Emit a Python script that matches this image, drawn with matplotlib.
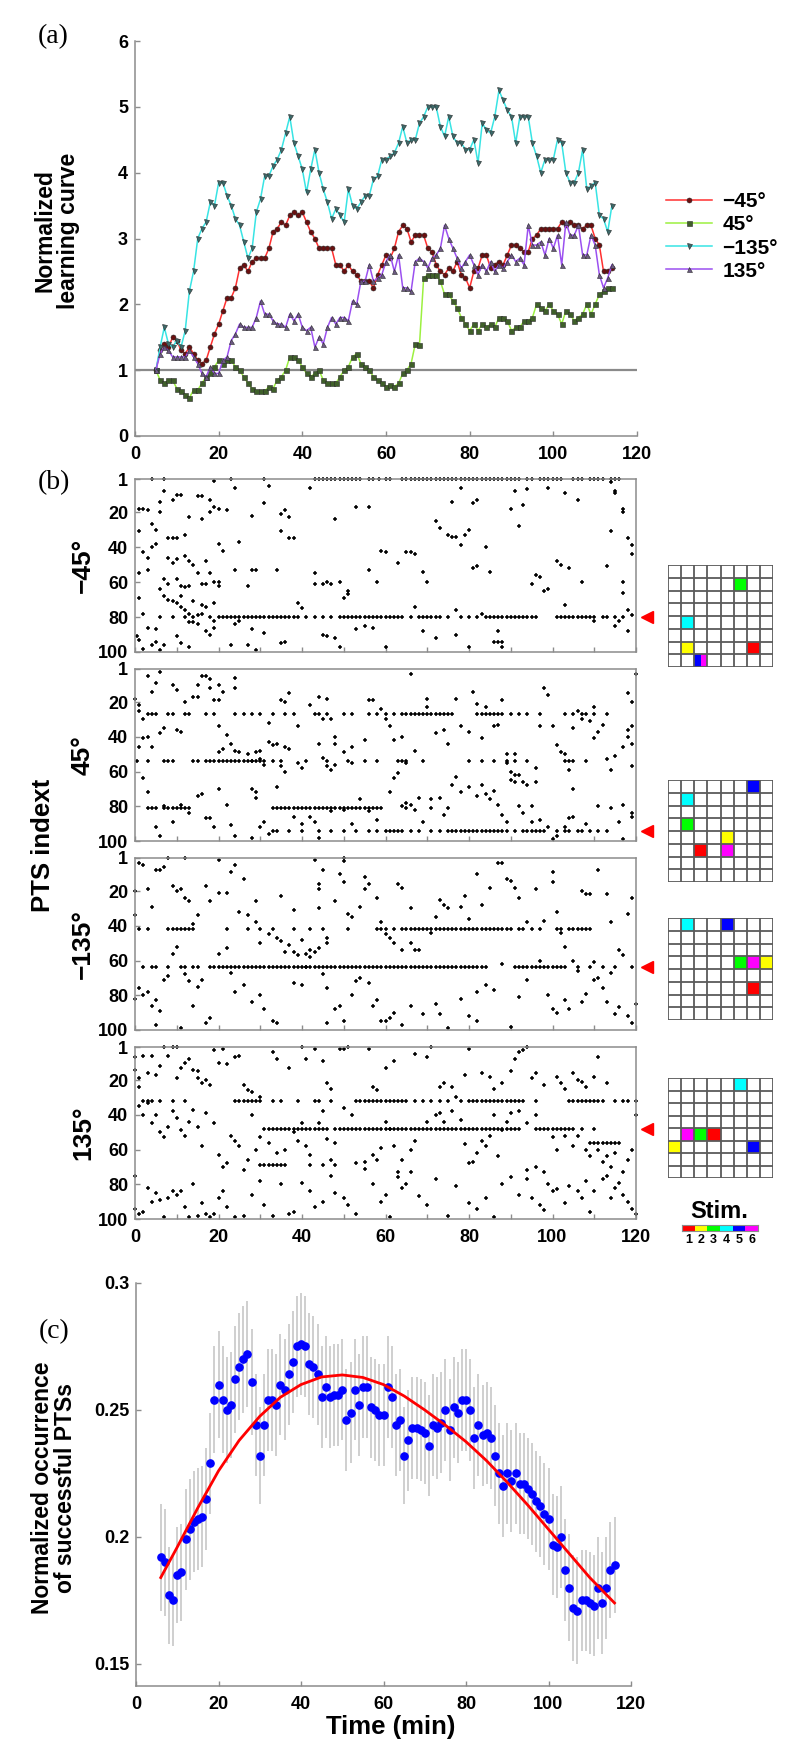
import matplotlib
matplotlib.use('Agg')
import matplotlib.pyplot as plt
from matplotlib.patches import Rectangle
import numpy as np

plt.rcParams['font.family'] = ['Liberation Sans', 'DejaVu Sans']
plt.rcParams['font.weight'] = 'bold'
plt.rcParams['axes.edgecolor'] = '#8c8c8c'
plt.rcParams['axes.linewidth'] = 1.1

##################################################
# (a) normalized learning curves, one value per minute (5..114)
minutes_a = list(range(5, 115))
curve_m45 = [1.0, 1.3, 1.4, 1.35, 1.5, 1.45, 1.3, 1.25, 1.35, 1.25,
             1.15, 1.1, 1.15, 1.35, 1.55, 1.7, 1.9, 2.1, 2.1, 2.25,
             2.55, 2.6, 2.5, 2.65, 2.7, 2.7, 2.7, 2.85, 3.1, 3.15,
             3.25, 3.2, 3.35, 3.4, 3.35, 3.4, 3.25, 3.1, 3.0, 2.85,
             2.85, 2.85, 2.85, 2.6, 2.6, 2.5, 2.6, 2.5, 2.45, 2.35,
             2.35, 2.35, 2.25, 2.45, 2.6, 2.75, 2.7, 2.85, 3.1, 3.2,
             3.15, 2.95, 3.05, 3.05, 3.05, 2.85, 2.8, 2.6, 2.5, 2.45,
             2.55, 2.5, 2.65, 2.45, 2.4, 2.25, 2.5, 2.55, 2.75, 2.75,
             2.55, 2.6, 2.65, 2.6, 2.75, 2.9, 2.9, 2.85, 2.8, 2.8,
             3.0, 3.05, 3.15, 3.15, 3.15, 3.15, 3.15, 3.25, 3.2, 3.25,
             3.2, 3.2, 3.15, 3.2, 3.2, 3.0, 2.9, 2.5, 2.5, 2.55]
curve_45 = [1.0, 0.85, 0.8, 0.85, 0.85, 0.72, 0.68, 0.63, 0.58, 0.7,
            0.7, 0.8, 0.9, 0.95, 1.05, 1.15, 1.1, 1.15, 1.15, 1.05,
            1.0, 0.9, 0.8, 0.72, 0.68, 0.68, 0.68, 0.75, 0.72, 0.85,
            0.9, 1.0, 1.2, 1.2, 1.15, 1.05, 0.95, 0.9, 0.95, 1.0,
            0.85, 0.8, 0.8, 0.8, 0.9, 1.0, 1.05, 1.2, 1.25, 1.1,
            1.05, 1.0, 0.9, 0.85, 0.8, 0.75, 0.78, 0.75, 0.8, 0.95,
            1.0, 1.1, 1.4, 1.38, 2.4, 2.45, 2.45, 2.45, 2.35, 2.15,
            2.15, 2.05, 1.95, 1.8, 1.7, 1.6, 1.7, 1.6, 1.7, 1.65,
            1.7, 1.65, 1.8, 1.8, 1.75, 1.6, 1.65, 1.65, 1.75, 1.75,
            1.8, 2.0, 1.95, 1.9, 2.0, 1.9, 1.85, 1.7, 1.9, 1.85,
            1.75, 1.8, 1.85, 2.0, 1.85, 2.0, 2.15, 2.2, 2.25, 2.25]
curve_m135 = [1.0, 1.35, 1.65, 1.4, 1.35, 1.45, 1.35, 1.6, 2.2, 2.5,
              3.0, 3.15, 3.25, 3.55, 3.5, 3.85, 3.85, 3.65, 3.5, 3.3,
              3.2, 2.95, 2.7, 2.85, 3.4, 3.6, 3.95, 3.95, 4.1, 4.2,
              4.35, 4.6, 4.85, 4.45, 4.25, 4.05, 3.7, 4.05, 4.35, 4.0,
              3.75, 3.55, 3.3, 3.45, 3.35, 3.25, 3.75, 3.5, 3.45, 3.55,
              3.65, 3.65, 3.9, 3.95, 4.2, 4.2, 4.25, 4.3, 4.45, 4.7,
              4.45, 4.5, 4.5, 4.75, 4.85, 5.0, 5.0, 5.0, 4.7, 4.55,
              4.85, 4.55, 4.45, 4.45, 4.35, 4.35, 4.5, 4.15, 4.75, 4.65,
              4.6, 4.85, 5.25, 5.1, 4.95, 4.85, 4.45, 4.85, 4.85, 4.85,
              4.45, 4.25, 4.0, 4.2, 4.2, 4.2, 4.5, 4.45, 4.0, 3.85,
              3.85, 4.0, 4.35, 3.75, 3.8, 3.85, 3.35, 3.3, 3.1, 3.5]
curve_135 = [1.0, 1.25, 1.35, 1.3, 1.2, 1.2, 1.2, 1.2, 1.3, 1.2,
             1.1, 0.95, 0.9, 1.05, 0.95, 0.95, 1.15, 1.2, 1.45, 1.55,
             1.7, 1.65, 1.65, 1.65, 1.8, 2.05, 1.85, 1.85, 1.75, 1.7,
             1.7, 1.65, 1.85, 1.75, 1.85, 1.65, 1.6, 1.65, 1.35, 1.5,
             1.4, 1.65, 1.8, 1.7, 1.8, 1.8, 1.75, 2.05, 2.0, 2.35,
             2.35, 2.6, 2.35, 2.4, 2.45, 2.65, 2.75, 2.5, 2.75, 2.25,
             2.25, 2.2, 2.65, 2.7, 2.65, 2.55, 2.7, 2.75, 2.85, 3.2,
             3.0, 2.85, 2.7, 2.55, 2.65, 2.75, 2.6, 2.45, 2.6, 2.5,
             2.65, 2.5, 2.6, 2.55, 2.65, 2.75, 2.65, 2.7, 2.6, 3.2,
             2.9, 2.9, 2.95, 2.75, 3.0, 2.85, 3.05, 2.6, 3.25, 3.05,
             3.05, 3.2, 2.75, 2.75, 3.05, 2.9, 2.45, 2.25, 2.4, 2.6]
angle_labels = ['\u221245\u00b0', '45\u00b0', '\u2212135\u00b0', '135\u00b0']

##################################################
# (b) raster of successful PTS index vs time, one block per angle
# dense rows: (PTS index, times)
m45_rows = [(1, [43, 44, 45, 46, 47, 48, 49, 50, 51, 52, 53, 54, 56, 57, 58.5, 60, 61, 64, 65, 66, 67,
                 68, 69, 70, 71, 72, 73, 74, 75, 76, 77, 78, 79, 80, 81, 82, 83, 84, 85, 86, 87, 88,
                 89, 90, 91, 92, 94, 95, 97, 98, 99, 100, 101, 102, 105, 106, 107, 109, 110, 111,
                 112, 114, 115, 116]),
            (80, [20, 21, 22, 23, 24, 25, 26, 27, 28, 29, 30, 31, 32, 33, 34, 35, 36, 37, 38, 39, 41,
                  43, 45, 47, 49, 50, 51, 52, 53, 54, 55, 56, 57, 58, 59, 60, 61, 62, 63, 64, 66, 68,
                  69, 70, 71, 72, 73, 75, 78, 80, 82, 84, 85, 86, 87, 88, 89, 90, 91, 92, 93, 94, 95,
                  96, 101, 102, 103, 104, 105, 106, 107, 108, 109, 110, 112, 113, 115, 117])]
m45_pts = [(4, 1), (7, 1), (19, 2), (23, 1), (31, 1), (42, 6),
           (1, 18), (2, 18), (3, 19), (4, 27), (5, 30), (1, 31), (2, 43), (3, 46), (1, 55), (3, 53),
           (1, 69), (2, 78), (0.5, 91), (1, 93), (3, 86), (4, 96), (5, 94), (2, 98), (6, 99), (4, 40),
           (5, 38), (6, 14), (7, 8), (6, 20), (8, 35), (9, 35), (10, 35), (9, 13), (10, 10), (11, 10),
           (8, 46), (9, 49), (10, 47), (12, 45), (13, 48), (14, 50), (12, 33), (13, 23), (16, 24),
           (15, 11), (16, 11), (18, 13), (19, 17), (20, 18), (22, 19), (18, 20), (18, 55), (19, 60),
           (20, 60), (20, 62), (15, 55), (13, 62), (16, 61), (17, 61), (7, 58), (8, 61), (6, 64),
           (7, 68), (8, 70), (9, 71), (10, 72), (11, 74), (12, 76), (13, 78), (14, 80), (15, 79),
           (16, 78), (18, 80), (19, 82), (19, 86), (15, 84), (13, 83), (17, 88), (18, 90), (7, 96),
           (10, 91), (11, 95), (13, 97), (12, 63), (11, 68), (14, 71), (16, 73), (17, 74), (19, 72),
           (21, 42), (20, 38), (17, 48), (10, 58), (11, 62), (9, 80), (12, 80), (14, 83), (6, 80),
           (5, 87), (24, 6), (28, 22), (32, 5), (35, 21), (36, 19), (37, 23), (35, 31), (37, 35),
           (38, 35), (31, 15), (28, 53), (25, 37), (24, 53), (29, 53), (34, 53), (27, 62), (39, 72),
           (40, 75), (25, 82), (24, 84), (28, 87), (31, 89), (35, 95), (36, 94), (23, 96), (27, 96),
           (29, 99), (43, 55), (43, 61), (45, 61), (46, 60), (47, 61), (49, 60), (51, 65), (50, 69),
           (51, 67), (46, 91), (48, 92), (45, 90), (48, 24), (53, 17), (56, 17), (56, 53), (59, 42),
           (60, 43), (58, 60), (63, 49), (65, 43), (66, 43), (67, 44), (69, 54), (70, 60), (55, 85),
           (57, 86), (60, 97), (49, 97), (53, 87), (72, 25), (73, 29), (75, 33), (76, 34), (77, 34),
           (78, 39), (80, 30), (79, 33), (78, 6), (76, 14), (81, 15), (82, 13), (84, 40), (81, 52),
           (82, 51), (85, 54), (86, 94), (87, 94), (88, 94), (87, 88), (88, 97), (90, 18), (91, 8),
           (92, 28), (93, 16), (94, 7), (99, 6), (101, 48), (102, 50), (103, 9), (104, 52), (103, 73),
           (106, 13), (107, 60), (110, 82), (114, 3), (115, 8), (115, 9), (114, 31), (113, 51),
           (117, 18), (117, 20), (118, 35), (119, 39), (119, 44), (117, 60), (117, 66), (118, 76),
           (119, 79), (118, 88), (115, 85), (116, 82), (96, 56), (98, 65), (99, 64), (97, 57),
           (95, 61), (72, 92), (77, 90), (69, 88), (77, 76), (67, 74), (80, 97), (83, 78)]

p45_rows = [(27, [3, 4, 5, 8, 9, 12, 13, 17, 19, 24, 26, 28, 30, 33, 36, 38, 43, 44, 46, 50, 52, 56,
                  58, 60, 62, 64, 65, 66, 67, 68, 69, 70, 71, 72, 73, 74, 75, 76, 82, 83, 84, 85, 86,
                  87, 88, 90, 92, 94, 97, 103, 105, 107, 110, 113]),
            (54, [0.5, 3, 7, 8, 9, 14, 15, 17, 18, 19, 20, 21, 22, 23, 24, 25, 26, 27, 28, 29, 30, 31,
                  33, 35, 41, 46, 51, 55, 58, 63, 64, 65, 69, 80, 83, 86, 89, 91, 94, 103, 104, 105,
                  108]),
            (81, [3, 4, 5, 7, 8, 9, 10, 11, 12, 13, 33, 34, 35, 36, 37, 38, 39, 40, 41, 42, 43, 44, 45,
                  46, 47, 48, 49, 50, 51, 52, 53, 54, 55, 56, 57, 58, 59, 65, 71, 75]),
            (94, [33, 34, 37, 40, 44, 47, 50, 53, 56, 60, 61, 62, 63, 64, 66, 68, 71, 73, 75, 76, 77,
                  78, 79, 80, 81, 82, 83, 84, 85, 86, 87, 88, 89, 91, 93, 94, 95, 96, 97, 98, 101,
                  103, 104, 106, 107, 109, 111, 113])]
p45_pts = [(0, 18), (1, 22), (1, 25), (2, 30), (3, 5), (4, 14), (5, 9), (6, 3), (3, 40), (2, 41),
           (4, 46), (1, 46), (6, 38), (7, 35), (10, 36), (11, 37), (9, 10), (10, 13), (12, 20),
           (14, 17), (15, 17), (15, 10), (16, 5), (17, 5), (18, 7), (18, 12), (19, 19), (20, 19),
           (20, 10), (20, 34), (21, 14), (24, 6), (24, 12), (22, 39), (23, 44), (24, 48), (21, 47),
           (20, 49), (25, 49), (27, 50), (29, 49), (30, 48), (30, 53), (31, 56), (28, 54), (32, 43),
           (33, 45), (34, 44), (36, 46), (37, 47), (32, 32), (35, 19), (36, 20), (37, 15), (39, 34),
           (42, 22), (44, 17), (45, 30), (46, 18), (47, 30), (48, 40), (48, 44), (50, 49), (52, 55),
           (52, 46), (55, 42), (56, 19), (57, 19), (59, 24), (60, 30), (61, 34), (62, 42), (64, 40),
           (65, 55), (66, 4), (67, 48), (70, 18), (70, 23), (72, 38), (74, 36), (75, 44), (77, 18),
           (78, 34), (80, 37), (81, 14), (82, 21), (83, 41), (84, 23), (86, 34), (87, 33), (88, 19),
           (89, 50), (89, 55), (91, 50), (90, 60), (91, 62), (92, 62), (93, 66), (94, 68), (95, 80),
           (96, 66), (96, 58), (97, 34), (98, 12), (99, 16), (100, 34), (101, 45), (102, 49),
           (103, 50), (104, 59), (105, 70), (105, 35), (106, 25), (107, 30), (108, 27), (109, 31),
           (110, 23), (110, 41), (111, 37), (112, 33), (113, 53), (114, 59), (115, 51), (117, 46),
           (118, 40), (118, 36), (119, 44), (119, 20), (118, 15), (119, 34), (117, 79), (119, 84),
           (120, 4), (119, 57), (2, 64), (3, 72), (5, 92), (6, 97), (7, 80), (9, 89), (11, 79),
           (13, 84), (15, 74), (16, 73), (17, 87), (18, 87), (19, 92), (20, 70), (22, 79), (23, 91),
           (24, 97), (28, 70), (29, 75), (29, 72), (28, 98), (30, 92), (31, 89), (32, 96), (34, 69),
           (35, 57), (36, 60), (38, 86), (40, 90), (42, 86), (43, 89), (44, 98), (47, 83), (50, 82),
           (52, 90), (54, 76), (56, 83), (58, 88), (61, 72), (62, 64), (63, 61), (64, 80), (65, 78),
           (66, 79), (67, 82), (68, 75), (69, 89), (71, 76), (73, 75), (74, 85), (76, 68), (77, 63),
           (78, 72), (80, 69), (82, 74), (83, 68), (84, 73), (85, 76), (86, 71), (87, 79), (88, 85),
           (89, 89), (90, 65), (91, 66), (92, 80), (93, 84), (95, 89), (97, 88), (99, 92), (100, 99),
           (101, 97), (103, 92), (104, 87), (105, 86), (108, 90), (111, 80), (114, 81), (116, 89),
           (117, 99), (119, 86), (58, 94), (48, 56), (46, 57), (45, 52), (44, 44), (39, 55), (40, 58),
           (47, 59)]

m135_rows = [(42, [3, 8, 9, 10, 11, 12, 13, 14, 22, 27, 30, 33, 38, 42, 45, 51, 58, 59, 60, 62, 64, 65,
                   66, 67, 68, 69, 70, 71, 72, 73, 74, 75, 76, 77, 78, 79, 80, 81, 82, 83, 84, 85,
                   86, 87, 88, 89, 90, 92, 93, 95, 97, 101, 102, 104, 105, 106, 107, 108, 109]),
             (64, [2, 4, 5, 8, 11, 12, 14, 15, 18, 19, 20, 21, 22, 23, 24, 25, 26, 27, 28, 29, 30, 31,
                   32, 33, 34, 35, 36, 37, 38, 39, 40, 41, 42, 43, 44, 45, 46, 47, 48, 49, 50, 51,
                   52, 53, 54, 55, 56, 57, 58, 59, 60, 61, 62, 63, 64, 65, 66, 67, 68, 69, 70, 71,
                   72, 73, 74, 75, 76, 77, 78, 79, 80, 81, 82, 83, 84, 91, 92, 93, 94, 95, 96, 97,
                   98, 99, 100, 101, 102, 103, 106, 109, 112, 115, 119])]
m135_pts = [(0, 20), (0, 34), (1, 42), (1, 4), (2, 5), (3, 19), (4, 29), (5, 8), (6, 8), (7, 6),
            (8, 1), (9, 17), (10, 20), (11, 19), (12, 1), (12, 24), (13, 26), (14, 39), (15, 34),
            (17, 17), (18, 26), (20, 2), (20, 21), (22, 21), (23, 9), (24, 5), (25, 32), (26, 13),
            (27, 34), (29, 26), (29, 38), (30, 50), (32, 45), (34, 47), (35, 23), (36, 55), (38, 31),
            (40, 48), (41, 56), (42, 54), (42, 58), (43, 2), (44, 16), (44, 19), (44, 30), (45, 8),
            (46, 47), (46, 50), (48, 26), (49, 10), (50, 1), (50, 3), (50, 15), (51, 33), (52, 35),
            (54, 29), (55, 19), (55, 12), (56, 16), (58, 24), (59, 38), (60, 45), (61, 47), (62, 50),
            (63, 16), (64, 18), (66, 30), (66, 50), (67, 54), (68, 54), (71, 44), (72, 35), (73, 25),
            (74, 28), (75, 30), (78, 29), (80, 36), (82, 10), (83, 28), (85, 18), (87, 4), (88, 4),
            (89, 13), (90, 14), (91, 18), (92, 24), (94, 38), (96, 19), (98, 37), (100, 9), (100, 15),
            (101, 32), (102, 44), (103, 52), (105, 60), (107, 20), (108, 22), (109, 22), (111, 8),
            (113, 22), (114, 38), (116, 54), (118, 33), (119, 24), (0, 82), (1, 76), (2, 80), (3, 78),
            (4, 86), (5, 83), (5, 97), (6, 89), (7, 71), (8, 69), (9, 56), (10, 52), (11, 99),
            (12, 68), (13, 72), (14, 86), (15, 75), (16, 71), (17, 96), (18, 93), (20, 56), (22, 53),
            (23, 67), (24, 78), (26, 74), (28, 84), (30, 80), (31, 88), (33, 95), (35, 49), (37, 51),
            (38, 55), (38, 73), (39, 57), (40, 74), (41, 64), (43, 55), (44, 53), (45, 68), (46, 76),
            (48, 88), (49, 86), (50, 95), (52, 80), (53, 72), (54, 70), (56, 73), (57, 86), (58, 83),
            (59, 95), (60, 95), (61, 93), (62, 90), (64, 54), (64, 97), (66, 86), (69, 91), (72, 85),
            (73, 91), (75, 99), (78, 82), (80, 92), (82, 95), (82, 78), (84, 74), (86, 77), (88, 62),
            (90, 98), (92, 81), (94, 71), (97, 60), (99, 80), (100, 88), (101, 90), (103, 83),
            (104, 88), (107, 84), (108, 79), (110, 71), (112, 76), (113, 84), (115, 91), (116, 87),
            (118, 92), (119, 96), (120, 85), (111, 70), (110, 61), (106, 66), (114, 67), (117, 57),
            (34, 96), (46, 96), (79, 23)]

p135_rows = [(32, [2, 3, 4, 6, 9, 12, 24, 25, 26, 27, 28, 29, 30, 33, 35, 39, 43, 44, 47, 53, 54, 55, 56,
                   57, 58, 59, 60, 61, 62, 63, 64, 65, 67, 69, 71, 73, 75, 78, 80, 81, 82, 83, 84, 85,
                   86, 87, 88, 89, 90, 91, 92, 93, 96, 104, 105, 106, 107, 108, 109, 110, 111, 112,
                   115, 117, 118, 120]),
             (48, [31, 32, 33, 34, 35, 36, 37, 38, 39, 40, 41, 42, 43, 44, 45, 46, 48, 49, 50, 51, 52,
                   53, 54, 55, 56, 57, 58, 59, 60, 61, 62, 63, 64, 65, 66, 67, 68, 69, 70, 71, 72, 73,
                   74, 75, 76, 77, 78, 79, 80, 81, 82, 83, 84, 85, 86, 87, 88, 89, 90, 91, 92, 96, 97,
                   98, 99, 100, 101, 102, 103, 104, 105, 107, 110]),
             (69, [30, 31, 32, 33, 34, 35, 36, 42, 45, 48]),
             (56, [109, 110, 111, 112, 113, 114, 115, 116])]
p135_pts = [(0, 7), (0, 14), (1, 19), (1, 24), (2, 6), (3, 16), (4, 6), (5, 17), (6, 12), (7, 1),
            (8, 6), (9, 1), (10, 1), (10, 19), (11, 13), (12, 10), (13, 8), (14, 14), (15, 15),
            (15, 19), (16, 22), (17, 20), (18, 23), (19, 3), (20, 10), (21, 2), (22, 11), (24, 7),
            (25, 6), (26, 23), (27, 26), (28, 27), (30, 30), (33, 4), (34, 8), (37, 13), (40, 1),
            (41, 8), (43, 2), (45, 9), (46, 22), (47, 25), (49, 2), (50, 2), (51, 1), (56, 2),
            (57, 24), (58, 26), (60, 13), (62, 9), (67, 5), (70, 7), (71, 1), (73, 24), (74, 22),
            (76, 24), (77, 30), (79, 17), (80, 2), (83, 16), (85, 18), (86, 25), (88, 22), (90, 15),
            (91, 8), (92, 4), (93, 3), (94, 1), (95, 19), (96, 16), (98, 23), (101, 18), (102, 22),
            (103, 25), (105, 16), (106, 20), (107, 21), (108, 24), (110, 18), (111, 7), (113, 22),
            (1, 35), (2, 40), (3, 33), (4, 45), (5, 40), (6, 50), (7, 53), (8, 47), (9, 38), (10, 42),
            (11, 49), (12, 52), (13, 44), (14, 37), (15, 47), (16, 58), (17, 39), (19, 45), (20, 63),
            (21, 70), (22, 68), (23, 52), (24, 55), (25, 58), (26, 72), (27, 66), (28, 40), (29, 60),
            (30, 53), (32, 56), (34, 62), (36, 60), (38, 50), (39, 55), (40, 45), (41, 58), (42, 63),
            (44, 45), (45, 38), (46, 54), (47, 66), (48, 56), (50, 36), (52, 40), (53, 68), (55, 67),
            (57, 63), (58, 66), (59, 59), (60, 44), (61, 48), (62, 58), (63, 73), (64, 66), (66, 60),
            (67, 55), (70, 44), (72, 40), (73, 39), (74, 44), (76, 38), (78, 43), (79, 57), (80, 68),
            (81, 67), (82, 62), (83, 55), (84, 58), (85, 52), (86, 40), (87, 64), (88, 49), (89, 44),
            (90, 39), (92, 38), (94, 45), (96, 40), (100, 53), (101, 60), (103, 52), (105, 58),
            (106, 52), (108, 60), (109, 64), (111, 60), (112, 67), (113, 64), (114, 70), (115, 62),
            (117, 73), (118, 66), (119, 60), (120, 40), (0, 94), (0, 75), (1, 97), (2, 96), (3, 82),
            (4, 90), (5, 85), (6, 89), (7, 99), (8, 88), (9, 84), (10, 86), (11, 84), (12, 93),
            (13, 99), (14, 80), (15, 98), (16, 91), (17, 97), (18, 99), (19, 97), (20, 88), (21, 84),
            (22, 93), (24, 99), (26, 98), (28, 86), (30, 78), (31, 92), (33, 98), (35, 80), (37, 97),
            (38, 96), (40, 79), (42, 84), (43, 93), (45, 90), (47, 75), (48, 85), (50, 88), (51, 92),
            (53, 97), (55, 71), (57, 80), (59, 90), (60, 86), (61, 99), (63, 76), (64, 82), (65, 80),
            (66, 73), (68, 87), (70, 92), (72, 77), (75, 98), (77, 81), (80, 91), (82, 94), (84, 88),
            (86, 99), (88, 80), (90, 76), (92, 86), (94, 72), (95, 88), (97, 92), (98, 95), (99, 80),
            (100, 84), (101, 83), (103, 91), (104, 81), (106, 84), (107, 88), (108, 78), (109, 96),
            (110, 84), (112, 77), (113, 75), (114, 88), (115, 82), (116, 79), (117, 86), (118, 90),
            (119, 94), (120, 97), (96, 70), (98, 73), (94, 77)]

# PTS index marked by the red arrow for each angle
marked_pts = [80, 94, 64, 48]

# 8x8 stimulation patterns: (row, col, width, colour)
pattern_m45 = [(1, 5, 1, 'lime'), (4, 1, 1, 'cyan'), (6, 1, 1, 'yellow'), (6, 6, 1, 'red'),
               (7, 2, 0.5, 'blue'), (7, 2.5, 0.45, 'magenta')]
pattern_45 = [(0, 6, 1, 'blue'), (1, 1, 1, 'cyan'), (3, 1, 1, 'lime'), (4, 4, 1, 'yellow'),
              (5, 2, 1, 'red'), (5, 4, 1, 'magenta')]
pattern_m135 = [(0, 1, 1, 'cyan'), (0, 4, 1, 'blue'), (3, 5, 1, 'lime'), (3, 6, 1, 'magenta'),
                (3, 7, 1, 'yellow'), (5, 6, 1, 'red')]
pattern_135 = [(0, 5, 1, 'cyan'), (4, 1, 1, 'magenta'), (4, 2, 1, 'lime'), (4, 3, 1, 'red'),
               (5, 0, 1, 'yellow'), (5, 6, 1, 'blue')]
stim_colors = ['red', 'yellow', 'lime', 'cyan', 'blue', 'magenta']
stim_labels = ['1', '2', '3', '4', '5', '6']

##################################################
# (c) normalized occurrence of successful PTSs, minutes 6..116
minutes_c = list(range(6, 117))
occ_mean = [0.192, 0.190, 0.177, 0.175, 0.185, 0.186, 0.199, 0.203, 0.206, 0.207,
            0.208, 0.215, 0.229, 0.254, 0.260, 0.254, 0.250, 0.252, 0.262, 0.267,
            0.270, 0.272, 0.261, 0.244, 0.232, 0.244, 0.254, 0.254, 0.252, 0.260,
            0.258, 0.264, 0.269, 0.275, 0.276, 0.275, 0.268, 0.267, 0.264, 0.255,
            0.259, 0.255, 0.256, 0.256, 0.258, 0.246, 0.249, 0.258, 0.252, 0.259,
            0.259, 0.251, 0.250, 0.248, 0.248, 0.259, 0.255, 0.244, 0.246, 0.232,
            0.238, 0.243, 0.243, 0.242, 0.241, 0.236, 0.244, 0.243, 0.245, 0.250,
            0.242, 0.251, 0.249, 0.254, 0.254, 0.250, 0.239, 0.244, 0.240, 0.241,
            0.239, 0.232, 0.225, 0.220, 0.225, 0.222, 0.225, 0.221, 0.221, 0.219,
            0.217, 0.214, 0.212, 0.209, 0.207, 0.197, 0.196, 0.200, 0.187, 0.180,
            0.172, 0.171, 0.175, 0.175, 0.174, 0.173, 0.180, 0.174, 0.180, 0.187,
            0.189]
occ_err = [0.021, 0.021, 0.019, 0.018, 0.019, 0.019, 0.020, 0.020, 0.020, 0.020,
           0.020, 0.020, 0.020, 0.021, 0.021, 0.021, 0.021, 0.021, 0.021, 0.021,
           0.021, 0.021, 0.021, 0.020, 0.019, 0.020, 0.020, 0.020, 0.020, 0.020,
           0.020, 0.020, 0.020, 0.020, 0.020, 0.020, 0.020, 0.020, 0.020, 0.020,
           0.020, 0.020, 0.020, 0.020, 0.020, 0.020, 0.020, 0.020, 0.020, 0.020,
           0.020, 0.020, 0.020, 0.020, 0.020, 0.020, 0.020, 0.020, 0.020, 0.019,
           0.020, 0.020, 0.020, 0.020, 0.020, 0.020, 0.020, 0.020, 0.020, 0.020,
           0.020, 0.020, 0.020, 0.020, 0.020, 0.020, 0.020, 0.020, 0.020, 0.020,
           0.020, 0.020, 0.020, 0.020, 0.020, 0.020, 0.020, 0.020, 0.020, 0.020,
           0.020, 0.020, 0.020, 0.020, 0.020, 0.020, 0.020, 0.020, 0.020, 0.021,
           0.021, 0.021, 0.020, 0.020, 0.020, 0.020, 0.020, 0.020, 0.020, 0.019,
           0.019]
fit_t = [6, 10, 15, 20, 25, 30, 35, 40, 45, 50, 55, 60, 65, 70, 75, 80, 85, 90, 95, 100, 105, 110, 116]
fit_v = [0.184, 0.196, 0.2115, 0.226, 0.238, 0.2475, 0.255, 0.260, 0.263, 0.2638, 0.2628, 0.260,
         0.2555, 0.250, 0.244, 0.2375, 0.230, 0.2215, 0.2125, 0.203, 0.1935, 0.184, 0.174]

##################################################

W, H = 800.0, 1753.0


def px_rect(x0, y0, x1, y1):
    # pixel box (top-left origin) -> figure fraction rect
    return [x0 / W, 1 - y1 / H, (x1 - x0) / W, (y1 - y0) / H]


def fig_text(x, y, s, **kw):
    fig.text(x / W, 1 - y / H, s, ha='center', va='center', **kw)


tick_kw = dict(direction='in', length=3.5, width=1.0, color='#8c8c8c', labelsize=13)

fig = plt.figure(figsize=(8, 17.53), dpi=100)

#### panel (a) ####
ax1 = fig.add_axes(px_rect(135, 41, 637, 436))
ax1.axhline(1, color='#8a8a8a', lw=1.6, zorder=1)
series = [(curve_m45, '#ff3030', 'o', '#6a1010'),
          (curve_45, '#9cf040', 's', '#3f5f2a'),
          (curve_m135, '#38e4e4', 'v', '#3e6a6a'),
          (curve_135, '#9b50f0', '^', '#6c5a82')]
for (vals, lc, mk, mfc), lab in zip(series, angle_labels):
    ax1.plot(minutes_a, vals, color=lc, lw=1.1, marker=mk, ms=3.6, mfc=mfc,
             mec='#2a2a2a', mew=0.4, label=lab, zorder=3)
ax1.set_xlim(0, 120)
ax1.set_ylim(0, 6)
ax1.set_xticks(range(0, 121, 20))
ax1.set_yticks(range(0, 7))
ax1.spines['top'].set_visible(False)
ax1.spines['right'].set_visible(False)
ax1.tick_params(axis='both', **tick_kw)
ax1.tick_params(axis='x', pad=7)
ax1.tick_params(axis='y', pad=5)
ax1.legend(loc='center left', bbox_to_anchor=(666 / W, 1 - 236.5 / H),
           bbox_transform=fig.transFigure, frameon=False, fontsize=15,
           handlelength=2.2, handletextpad=0.5, labelspacing=0.2,
           borderpad=0, borderaxespad=0, numpoints=1)
fig_text(57, 231, 'Normalized\nlearning curve', rotation=90, fontsize=16.5, linespacing=1.05)
fig_text(53, 37, '(a)', family='Liberation Serif', fontweight='normal', fontsize=20)

#### panel (b) ####
raster_box = [(479, 652), (669, 841), (858, 1030), (1047, 1219)]
raster_data = [(m45_rows, m45_pts, pattern_m45, (565, 667)),
               (p45_rows, p45_pts, pattern_45, (780, 882)),
               (m135_rows, m135_pts, pattern_m135, (918, 1020)),
               (p135_rows, p135_pts, pattern_135, (1078, 1178))]
for i, ((rows, pts, pattern, gbox), (top, bot)) in enumerate(zip(raster_data, raster_box)):
    ax = fig.add_axes(px_rect(135, top, 636, bot))
    pts = np.array(pts, dtype=float)
    ax.plot(pts[:, 0], pts[:, 1], '+', color='black', ms=3.2, mew=1.1, clip_on=False)
    for idx, times in rows:
        ax.plot(times, [idx] * len(times), '+', color='black', ms=3.2, mew=1.1, clip_on=False)
    ax.plot([122.6], [marked_pts[i]], marker='<', ms=9, color='red', clip_on=False)
    ax.set_xlim(0, 120)
    ax.set_ylim(100, 1)
    ax.set_yticks([1, 20, 40, 60, 80, 100])
    ax.set_xticks(range(0, 121, 10))
    if i == 3:
        ax.set_xticklabels([str(v) if v % 20 == 0 else '' for v in range(0, 121, 10)])
    else:
        ax.set_xticklabels([])
    ax.tick_params(axis='both', **tick_kw)
    ax.tick_params(axis='x', pad=7)
    ax.tick_params(axis='y', pad=5)
    fig_text(83, (top + bot) / 2, angle_labels[i], rotation=90, fontsize=19)

    # stimulation pattern grid
    gx = fig.add_axes(px_rect(668, gbox[0], 773, gbox[1]))
    for r, c, w, col in pattern:
        gx.add_patch(Rectangle((c, r), w, 1, facecolor=col, edgecolor='none'))
    for k in range(9):
        gx.axhline(k, color='#5a5a5a', lw=1.3)
        gx.axvline(k, color='#5a5a5a', lw=1.3)
    gx.set_xlim(0, 8)
    gx.set_ylim(8, 0)
    gx.axis('off')

fig_text(43, 845, 'PTS indext', rotation=90, fontsize=18.5)
fig_text(54, 483, '(b)', family='Liberation Serif', fontweight='normal', fontsize=20)

# stimulation colour key
cx = fig.add_axes(px_rect(682, 1225, 758, 1231))
cx.imshow([list(range(6))], cmap=matplotlib.colors.ListedColormap(stim_colors),
          aspect='auto', interpolation='nearest')
cx.set_yticks([])
cx.set_xticks(range(6))
cx.set_xticklabels(stim_labels, fontsize=9)
cx.tick_params(axis='x', length=0, pad=2)
for s in cx.spines.values():
    s.set_color('#8c8c8c')
    s.set_linewidth(0.8)
fig_text(719, 1211, 'Stim.', fontsize=17)

#### panel (c) ####
ax3 = fig.add_axes(px_rect(136, 1283, 631, 1686))
mean = np.array(occ_mean)
err = np.array(occ_err)
ax3.vlines(minutes_c, mean - err, mean + err, color='#cfcfcf', lw=1.4, zorder=1)
ax3.plot(minutes_c, occ_mean, 'o', color='#0000ff', ms=5.2, zorder=2)
ax3.plot(fit_t, fit_v, color='#ff0000', lw=2.0, zorder=3)
ax3.set_xlim(0, 120)
ax3.set_ylim(0.1413, 0.3)
ax3.set_xticks(range(0, 121, 20))
ax3.set_yticks([0.15, 0.2, 0.25, 0.3])
ax3.set_yticklabels(['0.15', '0.2', '0.25', '0.3'])
ax3.spines['top'].set_visible(False)
ax3.spines['right'].set_visible(False)
ax3.tick_params(axis='both', **tick_kw)
ax3.tick_params(axis='x', pad=7)
ax3.tick_params(axis='y', pad=5)
fig_text(54, 1488, 'Normalized occurrence\nof successful PTSs', rotation=90, fontsize=16.5,
         linespacing=1.05)
fig_text(391, 1727, 'Time (min)', fontsize=18.5)
fig_text(54, 1332, '(c)', family='Liberation Serif', fontweight='normal', fontsize=20)

plt.savefig('out.png', dpi=100)
